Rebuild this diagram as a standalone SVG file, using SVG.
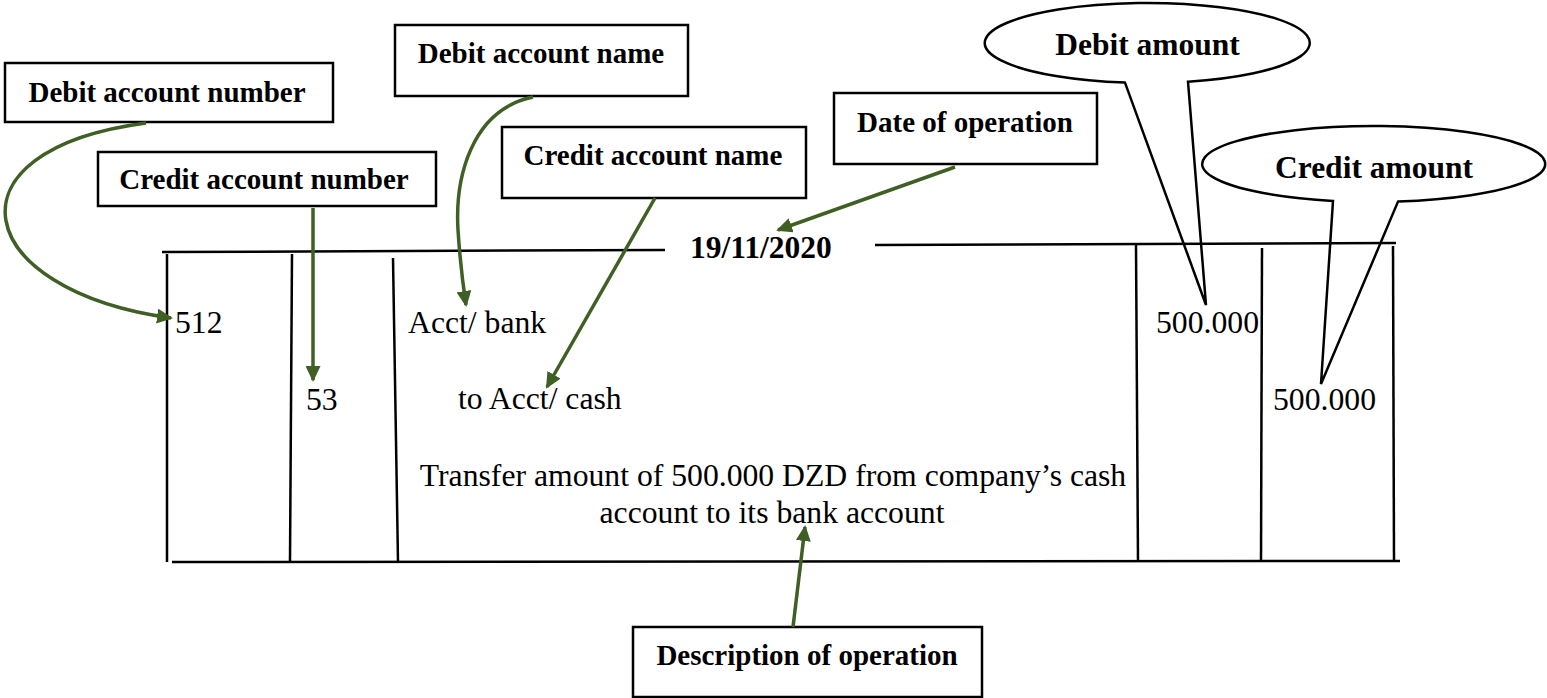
<svg xmlns="http://www.w3.org/2000/svg" width="1547" height="698" viewBox="0 0 1547 698">
<style>
.box{fill:#fff;stroke:#000;stroke-width:2.5}
.lbl{font-family:"Liberation Serif","Times New Roman",serif;font-weight:bold;font-size:29px;fill:#000;text-anchor:middle}
.big{font-family:"Liberation Serif","Times New Roman",serif;font-weight:bold;font-size:31.5px;fill:#000}
.txt{font-family:"Liberation Serif","Times New Roman",serif;font-size:31.7px;fill:#000}
.tl{stroke:#000;stroke-width:2.5;fill:none}
.call{fill:none;stroke:#000;stroke-width:2.5;stroke-linejoin:miter}
.arr{fill:none;stroke:#3f5f25;stroke-width:3.5;marker-end:url(#ah)}
</style>
<defs>
<marker id="ah" markerUnits="userSpaceOnUse" viewBox="0 0 16 15" markerWidth="16" markerHeight="15" refX="14" refY="7.5" orient="auto">
<path d="M0,0 L16,7.5 L0,15 z" fill="#3f5f25"/>
</marker>
</defs>
<rect width="1547" height="698" fill="#fff"/>

<g id="table">
<line class="tl" x1="162" y1="252" x2="665" y2="250"/>
<line class="tl" x1="875" y1="245" x2="1396" y2="243"/>
<line class="tl" x1="172" y1="562" x2="1400" y2="561"/>
<line class="tl" x1="167" y1="254" x2="167" y2="562"/>
<line class="tl" x1="292" y1="254" x2="290" y2="562"/>
<line class="tl" x1="393" y1="258" x2="398" y2="562"/>
<line class="tl" x1="1136" y1="245" x2="1138" y2="562"/>
<line class="tl" x1="1262" y1="248" x2="1261" y2="562"/>
<line class="tl" x1="1393" y1="246" x2="1394" y2="562"/>
<text class="big" x="690" y="258">19/11/2020</text>
<text class="txt" x="175" y="333">512</text>
<text class="txt" x="306" y="410">53</text>
<text class="txt" x="408" y="333">Acct/ bank</text>
<text class="txt" x="458" y="409">to Acct/ cash</text>
<text class="txt" x="773" y="486" text-anchor="middle">Transfer amount of 500.000 DZD from company’s cash</text>
<text class="txt" x="772" y="523" text-anchor="middle">account to its bank account</text>
<text class="txt" x="1156" y="333">500.000</text>
<text class="txt" x="1273" y="410">500.000</text>
</g>

<g id="debit-account-number">
<rect class="box" x="5" y="63" width="328" height="59"/>
<text class="lbl" x="167" y="102">Debit account number</text>
</g>
<g id="credit-account-number">
<rect class="box" x="98" y="152" width="338" height="54"/>
<text class="lbl" x="264" y="189">Credit account number</text>
</g>
<g id="debit-account-name">
<rect class="box" x="395" y="25" width="293" height="71"/>
<text class="lbl" x="541" y="63">Debit account name</text>
</g>
<g id="credit-account-name">
<rect class="box" x="502" y="127" width="304" height="71"/>
<text class="lbl" x="653" y="165">Credit account name</text>
</g>
<g id="date-of-operation">
<rect class="box" x="834" y="93" width="263" height="71"/>
<text class="lbl" x="965" y="132">Date of operation</text>
</g>
<g id="description-of-operation">
<rect class="box" x="633" y="627" width="349" height="70"/>
<text class="lbl" x="807" y="665">Description of operation</text>
</g>
<g id="debit-amount">
<path class="call" d="M1125,82.6 A162.5,40 0 1 1 1188,81.7 L1206,305 Z"/>
<text class="big" x="1147.5" y="55" text-anchor="middle">Debit amount</text>
</g>
<g id="credit-amount">
<path class="call" d="M1333,200.9 A171.5,38 0 1 1 1398,201.6 L1321,384 Z"/>
<text class="big" x="1374" y="178" text-anchor="middle">Credit amount</text>
</g>

<g id="connectors">
<path class="arr" d="M146,123 C-60,150 -30,290 171,318"/>
<path class="arr" d="M313,208 L313,380"/>
<path class="arr" d="M533,97 C470,110 455,180 458,230 C460,262 463,285 466,305"/>
<path class="arr" d="M655,198 L547,387"/>
<path class="arr" d="M955,167 L778,230"/>
<path class="arr" d="M793,627 L805,527"/>
</g>
</svg>
